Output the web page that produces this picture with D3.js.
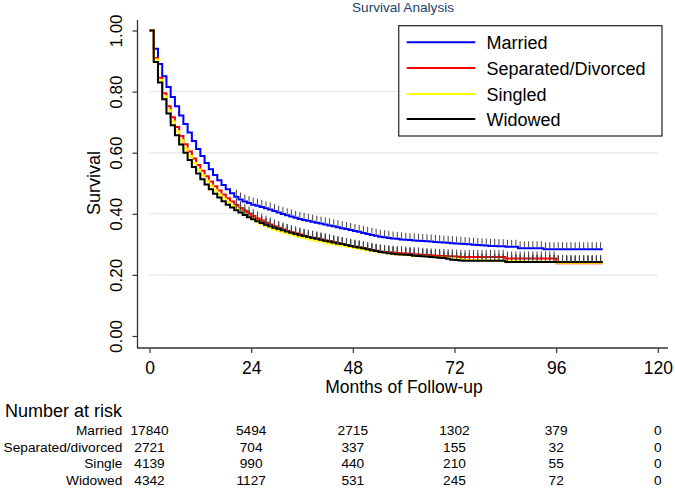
<!DOCTYPE html>
<html><head><meta charset="utf-8">
<script src="https://cdn.jsdelivr.net/npm/d3@7"></script>
<style>body{margin:0;background:#fff}svg{display:block;font-family:"Liberation Sans",Arial,sans-serif}</style>
</head><body>
<svg id="c" width="675" height="488"></svg>
<script>
const months = [0,1,2,3,4,5,6,7,8,9,10,11,12,13,14,15,16,17,18,19,20,21,22,23,24,25,26,27,28,29,30,31,32,33,34,35,36,37,38,39,40,41,42,43,44,45,46,47,48,49,50,51,52,53,54,55,56,57,58,59,60,61,62,63,64,65,66,67,68,69,70,71,72,73,74,75,76,77,78,79,80,81,82,83,84,85,86,87,88,89,90,91,92,93,94,95,96,97,98,99,100,101,102,103,104,105,106,107];
const married = [1.000,0.940,0.890,0.850,0.815,0.782,0.752,0.722,0.694,0.666,
 0.638,0.612,0.589,0.566,0.546,0.527,0.510,0.494,0.480,0.467,
 0.456,0.447,0.440,0.435,0.430,0.426,0.422,0.418,0.414,0.409,
 0.404,0.399,0.395,0.391,0.387,0.383,0.380,0.377,0.374,0.371,
 0.368,0.365,0.362,0.359,0.356,0.353,0.350,0.347,0.344,0.341,
 0.337,0.334,0.331,0.328,0.325,0.323,0.321,0.319,0.318,0.316,
 0.315,0.314,0.313,0.312,0.311,0.310,0.309,0.308,0.307,0.306,
 0.305,0.304,0.303,0.302,0.301,0.300,0.299,0.298,0.297,0.296,
 0.295,0.295,0.294,0.294,0.292,0.292,0.292,0.287,0.287,0.287,
 0.287,0.287,0.287,0.284,0.284,0.284,0.284,0.284,0.284,0.284,
 0.284,0.284,0.284,0.284,0.284,0.284,0.284,0.284];
const separated = [1.000,0.910,0.845,0.795,0.752,0.716,0.684,0.655,0.628,0.604,
 0.581,0.560,0.541,0.523,0.506,0.490,0.476,0.463,0.451,0.440,
 0.429,0.419,0.410,0.401,0.393,0.385,0.378,0.371,0.365,0.359,
 0.354,0.349,0.344,0.340,0.336,0.332,0.328,0.325,0.322,0.319,
 0.316,0.313,0.310,0.307,0.304,0.301,0.298,0.295,0.292,0.290,
 0.287,0.284,0.281,0.279,0.277,0.275,0.274,0.273,0.272,0.271,
 0.270,0.269,0.268,0.267,0.266,0.265,0.264,0.263,0.262,0.262,
 0.261,0.261,0.260,0.259,0.259,0.259,0.259,0.259,0.259,0.259,
 0.259,0.259,0.259,0.259,0.254,0.254,0.254,0.254,0.254,0.254,
 0.254,0.254,0.254,0.254,0.254,0.254,0.238,0.238,0.238,0.238,
 0.238,0.238,0.238,0.238,0.238,0.238,0.238,0.238];
const single = [1.000,0.905,0.838,0.785,0.740,0.702,0.670,0.641,0.614,0.589,
 0.566,0.545,0.526,0.508,0.492,0.477,0.463,0.450,0.438,0.427,
 0.417,0.407,0.398,0.390,0.382,0.374,0.367,0.360,0.354,0.349,
 0.344,0.340,0.336,0.332,0.328,0.324,0.321,0.318,0.315,0.312,
 0.309,0.306,0.303,0.301,0.298,0.296,0.293,0.291,0.288,0.286,
 0.283,0.281,0.278,0.276,0.274,0.272,0.270,0.269,0.267,0.266,
 0.265,0.264,0.263,0.262,0.261,0.260,0.259,0.258,0.257,0.256,
 0.255,0.254,0.252,0.251,0.250,0.249,0.249,0.248,0.248,0.247,
 0.247,0.247,0.246,0.246,0.245,0.245,0.245,0.245,0.244,0.244,
 0.244,0.244,0.243,0.243,0.243,0.243,0.240,0.240,0.240,0.240,
 0.240,0.240,0.240,0.240,0.240,0.240,0.240,0.240];
const widowed = [1.000,0.897,0.830,0.775,0.728,0.690,0.657,0.627,0.600,0.576,
 0.553,0.532,0.513,0.496,0.480,0.466,0.453,0.441,0.430,0.421,
 0.412,0.404,0.396,0.389,0.382,0.376,0.370,0.364,0.359,0.354,
 0.350,0.346,0.342,0.338,0.334,0.330,0.327,0.324,0.321,0.318,
 0.315,0.312,0.309,0.306,0.303,0.301,0.298,0.295,0.292,0.290,
 0.287,0.284,0.281,0.278,0.275,0.273,0.271,0.269,0.268,0.267,
 0.266,0.265,0.263,0.262,0.261,0.260,0.259,0.258,0.256,0.255,
 0.253,0.250,0.249,0.247,0.246,0.246,0.246,0.246,0.246,0.246,
 0.246,0.246,0.246,0.246,0.242,0.242,0.242,0.242,0.242,0.242,
 0.242,0.242,0.242,0.242,0.242,0.242,0.242,0.242,0.242,0.242,
 0.242,0.242,0.242,0.242,0.242,0.242,0.242,0.242];
const censorMonths = [20.5,21.5,22.5,23.5,24.5,25.5,26.5,27.5,28.5,29.5,30.5,31.5,32.5,33.5,34.5,35.5,36.5,37.5,38.5,39.5,40.5,41.5,42.5,43.5,44.5,45.5,46.5,47.5,48.5,49.5,50.5,51.5,52.5,53.5,54.5,55.5,56.5,57.5,58.5,59.5,60.5,61.5,62.5,63.5,64.5,65.5,66.5,67.5,68.5,69.5,70.5,71.5,72.5,73.5,74.5,75.5,76.5,77.5,78.5,79.5,80.5,81.5,82.5,83.5,84.5,85.5,86.5,87.5,88.5,89.5,90.5,91.5,92.5,93.5,94.5,95.5,96.5,97.5,98.5,99.5,100.5,101.5,102.5,103.5,104.5,105.5,106.5];
const seriesNames = ["Married","Separated/Divorced","Singled","Widowed"];
const seriesColors = ["#0000ff","#ff0000","#ffff00","#000000"];
const xTicks = [0,24,48,72,96,120];
const yTicks = [0,0.2,0.4,0.6,0.8,1.0];
const gridTicks = [0.2,0.4,0.6,0.8];
const riskTimes = [0,24,48,72,96,120];
const riskLabels = ["Married","Separated/divorced","Single","Widowed"];
const riskMarried = [17840,5494,2715,1302,379,0];
const riskSeparated = [2721,704,337,155,32,0];
const riskSingle = [4139,990,440,210,55,0];
const riskWidowed = [4342,1127,531,245,72,0];

const svg = d3.select("#c");
const x = d3.scaleLinear().domain([0,120]).range([149.5,657.8]);
const y = d3.scaleLinear().domain([0,1]).range([336,30.5]);

// title
svg.append("text").attr("x",403).attr("y",12).attr("text-anchor","middle")
  .attr("font-size",13.6).attr("fill","#1a3f6a").text("Survival Analysis");

// grid
svg.append("g").selectAll("line").data(gridTicks).join("line")
  .attr("x1",x(0)).attr("x2",x(120)).attr("y1",d=>y(d)).attr("y2",d=>y(d))
  .attr("stroke","#e6eef2").attr("stroke-width",1.5);

// axes
const yAxis = svg.append("g").attr("transform","translate(137.5,0)")
  .call(d3.axisLeft(y).tickValues(yTicks).tickFormat(d3.format(".2f")).tickSize(5).tickPadding(0));
yAxis.select(".domain").attr("d","M0,20V348").attr("stroke","#333").attr("stroke-width",1.3);
yAxis.selectAll(".tick line").attr("stroke","#333").attr("stroke-width",1.2);
yAxis.selectAll(".tick text").attr("font-size",17).attr("fill","#000")
  .attr("font-family","Liberation Sans, Arial, sans-serif")
  .attr("text-anchor","middle").attr("dy",0).attr("x",0).attr("y",0)
  .attr("transform","translate(-16,0) rotate(-90)");

const xAxis = svg.append("g").attr("transform","translate(0,348)")
  .call(d3.axisBottom(x).tickValues(xTicks).tickFormat(d3.format("d")).tickSize(5).tickPadding(0));
xAxis.select(".domain").attr("d","M137,0H668").attr("stroke","#333").attr("stroke-width",1.3);
xAxis.selectAll(".tick line").attr("stroke","#333").attr("stroke-width",1.2);
xAxis.selectAll(".tick text").attr("font-size",17.5).attr("fill","#000")
  .attr("font-family","Liberation Sans, Arial, sans-serif")
  .attr("dy",0).attr("y",26);

// axis titles
svg.append("text").attr("transform","translate(100,183) rotate(-90)").attr("text-anchor","middle")
  .attr("font-size",18).text("Survival");
svg.append("text").attr("x",404).attr("y",392.5).attr("text-anchor","middle")
  .attr("font-size",17.5).text("Months of Follow-up");

// curves
const allSeries = [married,separated,single,widowed];
const line = d3.line().x(d=>x(d[0])).y(d=>y(d[1])).curve(d3.curveStepAfter);
allSeries.forEach((vals,i)=>{
  const pts = months.map((m,j)=>[m,vals[j]]);
  svg.append("path").datum(pts).attr("d",line).attr("fill","none")
    .attr("stroke",seriesColors[i]).attr("stroke-width",2);
});
// censoring ticks
allSeries.forEach((vals,i)=>{
  svg.append("g").selectAll("line").data(censorMonths).join("line")
    .attr("x1",d=>x(d)).attr("x2",d=>x(d))
    .attr("y1",d=>y(vals[Math.floor(d)])-1).attr("y2",d=>y(vals[Math.floor(d)])-7)
    .attr("stroke","#444").attr("stroke-width",1);
});

// legend
const lg = svg.append("g");
lg.append("rect").attr("x",398.7).attr("y",25.7).attr("width",263.3).attr("height",110.3)
  .attr("fill","#fff").attr("stroke","#333").attr("stroke-width",1.3);
const rowY = [42.3,68,94,119];
seriesNames.forEach((n,i)=>{
  lg.append("line").attr("x1",406.7).attr("x2",475.3).attr("y1",rowY[i]).attr("y2",rowY[i])
    .attr("stroke",seriesColors[i]).attr("stroke-width",2);
  lg.append("text").attr("x",486.5).attr("y",rowY[i]+6.5).attr("font-size",18).text(n);
});

// risk table
svg.append("text").attr("x",5).attr("y",417).attr("font-size",18).text("Number at risk");
const riskRows = [riskMarried,riskSeparated,riskSingle,riskWidowed];
const riskY = [435,451.7,468.3,485];
riskRows.forEach((row,i)=>{
  svg.append("text").attr("x",122.3).attr("y",riskY[i]).attr("text-anchor","end")
    .attr("font-size",13.7).text(riskLabels[i]);
  svg.append("g").selectAll("text").data(row).join("text")
    .attr("x",(d,j)=>x(riskTimes[j])).attr("y",riskY[i]).attr("text-anchor","middle")
    .attr("font-size",13.7).text(d=>d);
});
</script>
</body></html>
